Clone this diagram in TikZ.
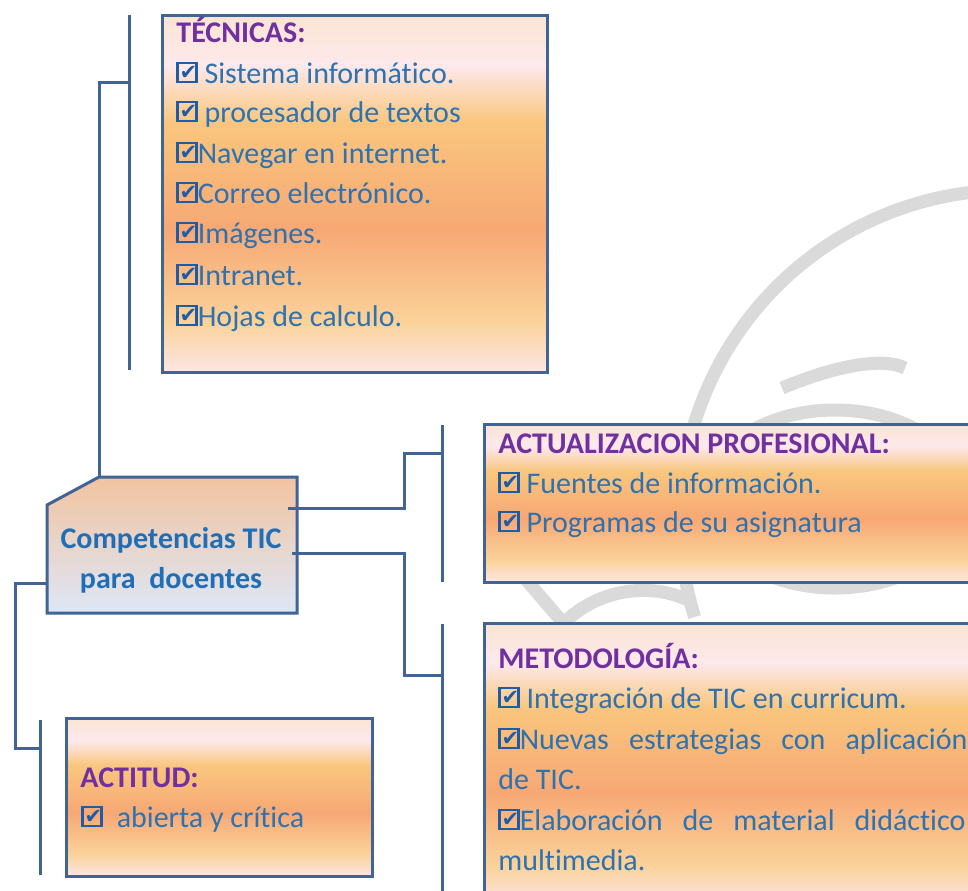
\documentclass[tikz,border=0pt]{standalone}
\usepackage{fontspec}
\setmainfont{Carlito}[Ligatures=NoCommon]
\newfontfamily\dejavu{DejaVu Sans}
\definecolor{linecol}{HTML}{3F6495}
\definecolor{titlecol}{HTML}{7030A0}
\definecolor{itemcol}{HTML}{2E72B0}
\definecolor{cbcol}{HTML}{1F5CA6}
\definecolor{corecol}{HTML}{1F6FB8}
\definecolor{wmcol}{HTML}{DADADA}
\definecolor{obA}{HTML}{FBE4D2}
\definecolor{obB}{HTML}{FDE9EC}
\definecolor{obC}{HTML}{F9C67E}
\definecolor{obD}{HTML}{F7A874}
\definecolor{obE}{HTML}{FAD29A}
\definecolor{obF}{HTML}{FDE6E4}
\definecolor{coreTop}{HTML}{F2C3A0}
\definecolor{coreMid}{HTML}{DCD8E0}
\definecolor{coreBot}{HTML}{DDE7F7}
\pgfdeclareverticalshading{orangebox}{100bp}{color(0bp)=(obF); color(25bp)=(obF); color(32bp)=(obE); color(45bp)=(obD); color(60bp)=(obC); color(68bp)=(obB); color(75bp)=(obA); color(100bp)=(obA)}
\newcommand{\cb}{{\color{cbcol}\makebox[0pt][l]{\hspace{1.6pt}\raisebox{1.8pt}{\dejavu\fontsize{10.5}{10.5}\selectfont ✔}}\raisebox{1.2pt}{\setlength{\fboxsep}{0pt}\setlength{\fboxrule}{1.2pt}\fbox{\rule{0pt}{8.3pt}\rule{8.3pt}{0pt}}}}}
\tikzset{
  item/.style={anchor=base west, inner sep=0pt, font=\fontsize{15}{18}\selectfont, text=itemcol},
  ttl/.style={anchor=base west, inner sep=0pt, font=\bfseries\fontsize{15}{18}\selectfont, text=titlecol},
  coretext/.style={anchor=base, inner sep=0pt, font=\bfseries\fontsize{15}{18}\selectfont, text=corecol},
  obox/.style={draw=linecol, line width=1.5pt, shading=orangebox, anchor=north west, inner sep=0pt, outer sep=0pt},
  conn/.style={draw=linecol, line width=1.5pt},
  wm/.style={draw=wmcol, line width=6.5pt}
}
\begin{document}
\begin{tikzpicture}[x=0.5pt,y=-0.5pt]
\useasboundingbox (0,0) rectangle (968,890);
\clip (0,0) rectangle (968,890);
\fill[white] (0,0) rectangle (968,890);
% watermark
\draw[wm] (1010,520) ++(85:165pt) arc[start angle=85, end angle=197.1, radius=165pt];
\draw[wm] (835,499) ellipse[x radius=65pt, y radius=44.5pt];
\draw[wm] (782,388) .. controls (830,368) and (880,356) .. (905,368);
\draw[wm] (522,575) -- (565,625);
\draw[wm] (562,625) .. controls (595,590) and (650,580) .. (692,602);
% boxes
\node[obox, minimum width=192.5pt, minimum height=178.5pt] (tec) at (162,15) {};
\node[obox, minimum width=253pt, minimum height=79pt] (act) at (484,424) {};
\node[obox, minimum width=254pt, minimum height=141pt] (met) at (484,623) {};
\node[obox, minimum width=153pt, minimum height=79pt] (acti) at (66,718) {};
% core shape
\coordinate (c1) at (99,477);
\coordinate (c2) at (297,477);
\coordinate (c3) at (297,613);
\coordinate (c4) at (47,613);
\coordinate (c5) at (47,505);
\path[draw=linecol, line width=1.5pt, top color=coreTop, middle color=coreMid, bottom color=coreBot] (c1) -- (c2) -- (c3) -- (c4) -- (c5) -- cycle;
\node[coretext] (core1) at (171,548) {Competencias TIC};
\node[coretext] (core2) at (171,588) {para\ \ docentes};
% bars
\coordinate (bt1) at (129,15);  \coordinate (bt2) at (129,370);
\coordinate (ba1) at (442,425); \coordinate (ba2) at (442,582);
\coordinate (bm1) at (442,624); \coordinate (bm2) at (442,900);
\coordinate (bc1) at (40,720);  \coordinate (bc2) at (40,875);
\draw[conn] (bt1) -- (bt2);
\draw[conn] (ba1) -- (ba2);
\draw[conn] (bm1) -- (bm2);
\draw[conn] (bc1) -- (bc2);
% connectors
\coordinate (jt) at (129,82);
\draw[conn] (c1) |- (jt);
\coordinate (ra) at (288,508); \coordinate (ka) at (404,508); \coordinate (ja) at (442,453);
\draw[conn] (ra) -- (ka) |- (ja);
\coordinate (rm) at (292,553); \coordinate (km) at (404,553); \coordinate (jm) at (442,675);
\draw[conn] (rm) -- (km) |- (jm);
\coordinate (lc) at (47,583); \coordinate (kc) at (15,583); \coordinate (jc) at (40,748);
\draw[conn] (lc) -- (kc) |- (jc);
% TECNICAS text
\node[ttl] (tt) at (176,42) {TÉCNICAS:};
\node[item] (t1) at (176,83) {\cb\ Sistema informático.};
\node[item] (t2) at (176,122) {\cb\ procesador de textos};
\node[item] (t3) at (176,163) {\cb Navegar en internet.};
\node[item] (t4) at (176,203) {\cb Correo electrónico.};
\node[item] (t5) at (176,243) {\cb Imágenes.};
\node[item] (t6) at (176,285) {\cb Intranet.};
\node[item] (t7) at (176,326) {\cb Hojas de calculo.};
% ACTUALIZACION text
\node[ttl] (at) at (498,453) {ACTUALIZACION PROFESIONAL:};
\node[item] (a1) at (498,493) {\cb\ Fuentes de información.};
\node[item] (a2) at (498,532) {\cb\ Programas de su asignatura};
% METODOLOGIA text
\node[ttl] (mt) at (498,668) {METODOLOGÍA:};
\node[item] (m1) at (498,708) {\cb\ Integración de TIC en curricum.};
\node[item] (m2) at (498,749) {\makebox[234.5pt][s]{\cb Nuevas estrategias con aplicación}};
\node[item] (m3) at (498,789) {de TIC.};
\node[item] (m4) at (498,830) {\makebox[233.5pt][s]{\cb Elaboración de material didáctico}};
\node[item] (m5) at (498,870) {multimedia.};
% ACTITUD text
\node[ttl] (ct) at (80,787) {ACTITUD:};
\node[item] (c6) at (81,827) {\cb\hspace{7pt}abierta y crítica};
\end{tikzpicture}
\end{document}
